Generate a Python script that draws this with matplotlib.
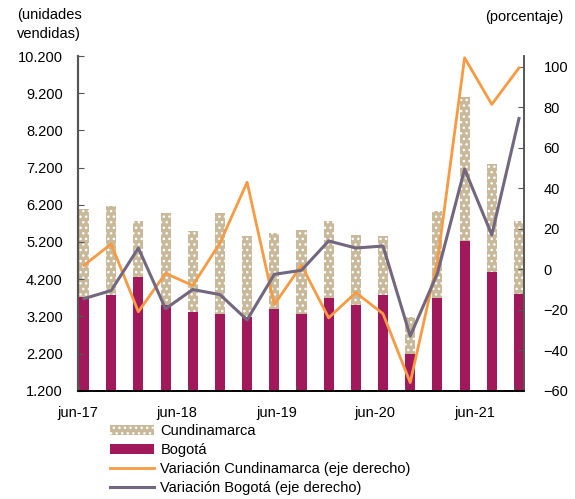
import numpy as np
import matplotlib
matplotlib.use('Agg')
import matplotlib.pyplot as plt
from matplotlib.ticker import FuncFormatter
from matplotlib.patches import Patch
from matplotlib.lines import Line2D

plt.rcParams['font.family'] = ['Liberation Sans', 'DejaVu Sans']
plt.rcParams['hatch.color'] = 'white'
plt.rcParams['hatch.linewidth'] = 1.0

# quarterly, jun-17 .. jun-21
periods = ['jun-17', 'sep-17', 'dic-17', 'mar-18', 'jun-18', 'sep-18', 'dic-18', 'mar-19',
           'jun-19', 'sep-19', 'dic-19', 'mar-20', 'jun-20', 'sep-20', 'dic-20', 'mar-21', 'jun-21']
bogota = [3710, 3770, 4260, 3500, 3320, 3270, 3190, 3400, 3270, 3680, 3500, 3780, 2200, 3680, 5220, 4400, 3810]
cundinamarca = [2370, 2400, 1500, 2480, 2180, 2710, 2170, 2050, 2260, 2080, 1900, 1570, 990, 2350, 3880, 2900, 1950]
var_cund = [2, 12.5, -21, -2, -8, 13, 43, -17.5, 2, -24, -11.5, -22, -56, 4, 104.5, 81.5, 99.5]
var_bog = [-14.5, -10.5, 10.5, -19.5, -10, -12.5, -25, -2.5, -0.5, 14, 10.5, 11.5, -33, -2, 49.5, 17, 74.5]
xlabels = ['jun-17', 'jun-18', 'jun-19', 'jun-20', 'jun-21']

c_tan = '#C9B99B'
c_mag = '#A2195B'
c_orange = '#F79A42'
c_grey = '#72677E'
axis_col = '#555555'

x = np.arange(len(periods))
bw = 0.37

fig = plt.figure(figsize=(5.75, 4.99), dpi=100)
ax = fig.add_axes([78/575, 1-390.7/499, 446/575, (390.7-56)/499])

ax.bar(x, bogota, width=bw, color=c_mag, linewidth=0)
ax.bar(x, cundinamarca, width=bw, bottom=bogota, color=c_tan, edgecolor='white', linewidth=0, hatch='...')

ax.set_ylim(1200, 10200)
ax.set_yticks(np.arange(1200, 10201, 1000))
ax.yaxis.set_major_formatter(FuncFormatter(lambda v, p: f'{int(v):,}'.replace(',', '.')))
ax.set_xlim(-bw/2, len(periods) - 1 + bw/2)

# tick marks at quarter boundaries, labels placed separately
ax.set_xticks([4*k - bw/2 for k in range(5)])
ax.set_xticklabels([])
ax.set_xticks([-0.22, 3.41, 7.08, 10.71, 14.38], minor=True)
ax.set_xticklabels(xlabels, minor=True, fontsize=10.5)
ax.tick_params(axis='x', which='minor', length=0, pad=11)
ax.tick_params(axis='x', which='major', direction='in', length=4, color=axis_col)
ax.tick_params(axis='y', direction='in', length=4, labelsize=10.5, pad=11, color=axis_col)

ax2 = ax.twinx()
ax2.plot(x, var_cund, color=c_orange, lw=2.0)
ax2.plot(x, var_bog, color=c_grey, lw=2.2)
ax2.set_ylim(-60, 105.4)
ax2.set_yticks(np.arange(-60, 101, 20))
ax2.tick_params(axis='y', direction='in', length=4, labelsize=10.5, pad=14, color=axis_col)

for a in (ax, ax2):
    a.spines['top'].set_visible(False)
    a.spines['left'].set_color(axis_col)
    a.spines['right'].set_color(axis_col)
    a.spines['left'].set_linewidth(1.5)
    a.spines['right'].set_linewidth(1.2)
    a.spines['bottom'].set_color('black')
    a.spines['bottom'].set_linewidth(1.2)

fig.text(17/575, 1-8/499, '(unidades\nvendidas)', ha='left', va='top', fontsize=10.5, linespacing=1.45)
fig.text(563/575, 1-17.5/499, '(porcentaje)', ha='right', va='center', fontsize=10.5)

handles = [Patch(facecolor=c_tan, edgecolor='white', linewidth=0, hatch='...'),
           Patch(facecolor=c_mag, linewidth=0),
           Line2D([], [], color=c_orange, lw=2.0),
           Line2D([], [], color=c_grey, lw=2.2)]
labels = ['Cundinamarca', 'Bogotá', 'Variación Cundinamarca (eje derecho)', 'Variación Bogotá (eje derecho)']
fig.legend(handles, labels, loc='upper left', bbox_to_anchor=(110/575, 1-424/499), frameon=False,
           fontsize=10.5, handlelength=3.0, handleheight=0.75, handletextpad=0.45,
           labelspacing=0.35, borderpad=0, borderaxespad=0)

fig.savefig('out.png', dpi=100)
